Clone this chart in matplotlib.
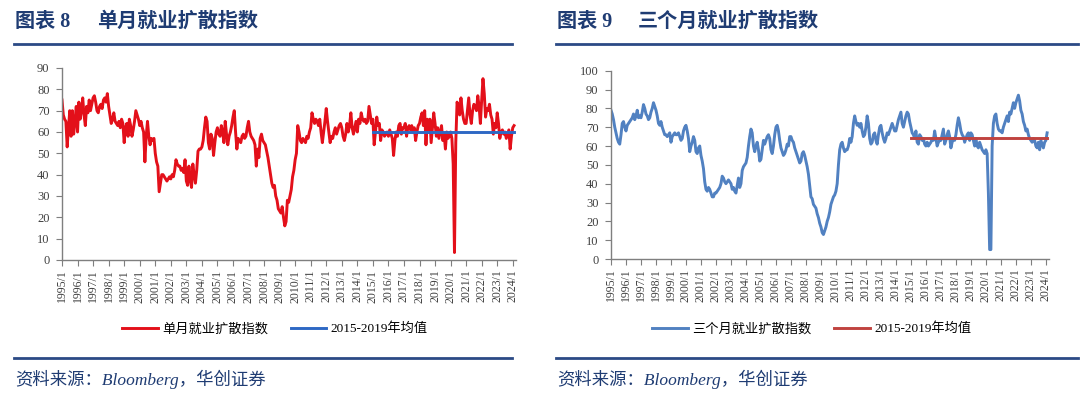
import matplotlib.pyplot as plt
import numpy as np
import pandas as pd
from matplotlib.lines import Line2D

# monthly values, 1995/1 .. 2024/2
single_month = [
    75, 68, 66, 65, 53, 62, 70, 58, 70, 59, 65, 72,   # 1995
    60, 74, 66, 70, 76, 68, 63, 72, 69, 75, 70, 73,   # 1996
    76, 77, 74, 70, 69, 72, 73, 71, 75, 76, 74, 78,   # 1997
    72, 68, 64, 66, 69, 65, 64, 63, 65, 62, 66, 64,   # 1998
    55, 62, 64, 58, 66, 63, 58, 61, 65, 70, 68, 66,   # 1999
    63, 65, 62, 60, 46, 58, 65, 58, 54, 57, 56, 57,   # 2000
    50, 46, 44, 32, 36, 40, 40, 39, 38, 37, 38, 39,   # 2001
    38, 40, 39, 42, 47, 45, 44, 44, 42, 43, 41, 47,   # 2002
    37, 35, 44, 38, 34, 45, 40, 36, 42, 51, 52, 52,   # 2003
    53, 56, 62, 67, 65, 55, 52, 59, 57, 49, 55, 60,   # 2004
    62, 59, 58, 63, 60, 55, 65, 59, 54, 58, 60, 63,   # 2005
    67, 70, 60, 52, 57, 56, 55, 58, 59, 57, 58, 62,   # 2006
    65, 60, 58, 57, 56, 54, 44, 52, 48, 57, 59, 56,   # 2007
    55, 54, 51, 48, 44, 40, 36, 34, 35, 30, 28, 24,   # 2008
    23, 22, 25, 20, 16, 18, 28, 27, 30, 33, 39, 42,   # 2009
    47, 50, 63, 60, 56, 55, 57, 56, 55, 58, 57, 60,   # 2010
    62, 69, 66, 64, 66, 65, 63, 66, 60, 55, 60, 65,   # 2011
    71, 65, 60, 55, 58, 57, 60, 62, 59, 61, 63, 64,   # 2012
    62, 58, 56, 59, 64, 60, 63, 69, 62, 59, 62, 65,   # 2013
    60, 66, 64, 69, 66, 65, 66, 64, 65, 72, 68, 64,   # 2014
    66, 54, 60, 67, 63, 64, 56, 61, 60, 58, 59, 60,   # 2015
    58, 61, 59, 57, 49, 56, 60, 58, 63, 64, 59, 62,   # 2016
    62, 64, 58, 62, 63, 61, 63, 60, 62, 56, 60, 63,   # 2017
    64, 67, 69, 63, 70, 54, 66, 60, 66, 55, 62, 69,   # 2018
    64, 58, 62, 57, 60, 63, 56, 59, 52, 60, 57, 58,   # 2019
    60, 57, 45, 3.5, 55, 74, 72, 68, 76, 70, 66, 64,  # 2020
    64, 70, 76, 68, 64, 70, 73, 72, 70, 77, 72, 64,   # 2021
    75, 85, 78, 67, 71, 70, 73, 68, 66, 59, 64, 62,   # 2022
    69, 64, 57, 60, 61, 59, 60, 57, 59, 61, 52, 58,   # 2023
    62, 63,                                           # 2024
]

three_month = [
    79, 77, 74, 70, 67, 64, 62, 61, 66, 72, 73, 70,   # 1995
    68, 71, 72, 73, 74, 75, 77, 74, 76, 79, 75, 76,   # 1996
    75, 78, 82, 80, 77, 76, 74, 75, 78, 80, 83, 81,   # 1997
    79, 76, 72, 71, 73, 70, 68, 66, 66, 65, 66, 67,   # 1998
    62, 65, 66, 67, 66, 66, 67, 65, 63, 64, 68, 70,   # 1999
    71, 68, 64, 57, 60, 62, 65, 63, 57, 56, 59, 60,   # 2000
    55, 52, 48, 41, 37, 36, 38, 37, 35, 33, 33, 35,   # 2001
    35, 36, 37, 38, 40, 44, 43, 41, 40, 41, 42, 41,   # 2002
    40, 37, 38, 36, 35, 39, 43, 38, 40, 47, 49, 50,   # 2003
    51, 54, 60, 65, 69, 67, 60, 57, 60, 62, 58, 52,   # 2004
    53, 58, 63, 61, 63, 65, 66, 64, 58, 56, 60, 66,   # 2005
    70, 71, 68, 63, 59, 57, 55, 56, 58, 61, 60, 65,   # 2006
    65, 63, 62, 59, 57, 55, 53, 51, 52, 56, 57, 55,   # 2007
    52, 49, 45, 39, 33, 32, 29, 28, 27, 24, 22, 19,   # 2008
    17, 14, 13, 15, 17, 20, 22, 25, 29, 31, 33, 34,   # 2009
    36, 40, 50, 58, 61, 62, 59, 57, 58, 58, 60, 64,   # 2010
    62, 65, 72, 76, 73, 71, 72, 70, 72, 68, 65, 66,   # 2011
    70, 76, 72, 64, 61, 62, 66, 67, 63, 61, 66, 70,   # 2012
    71, 67, 64, 62, 64, 67, 66, 68, 70, 72, 70, 68,   # 2013
    68, 71, 74, 76, 78, 72, 70, 73, 76, 78, 77, 73,   # 2014
    70, 67, 66, 64, 68, 62, 61, 66, 65, 63, 64, 61,   # 2015
    60, 62, 60, 61, 62, 64, 63, 68, 64, 60, 62, 63,   # 2016
    63, 66, 69, 61, 63, 66, 68, 65, 59, 62, 64, 63,   # 2017
    66, 71, 75, 72, 68, 66, 65, 62, 64, 66, 67, 63,   # 2018
    67, 66, 63, 60, 64, 60, 59, 62, 60, 58, 57, 56,   # 2019
    58, 56, 35, 5, 5, 60, 72, 76, 77, 72, 69, 68,     # 2020
    68, 67, 70, 72, 74, 76, 73, 78, 77, 80, 83, 80,   # 2021
    83, 85, 87, 84, 79, 77, 73, 71, 68, 69, 66, 64,   # 2022
    63, 62, 64, 63, 60, 59, 62, 58, 63, 61, 59, 62,   # 2023
    63, 67,                                           # 2024
]

avg_single = 60.0   # 2015-2019 average
avg_three = 64.0
avg_start = '2015-01'

months = pd.date_range('1995-01-01', periods=len(single_month), freq='MS')
tick_labels = [f"{y}/1" for y in range(1995, 2025)]

TITLE_BLUE = '#1F3C73'
CJK = 'Noto Sans CJK SC'
SERIF = ['Liberation Serif', CJK]

fig = plt.figure(figsize=(10.8, 3.97), dpi=100)
W, H = 1080, 397


def fx(px):
    return px / W


def fy(py):
    return 1 - py / H


def hline(x0, x1, y):
    fig.add_artist(Line2D([fx(x0), fx(x1)], [fy(y), fy(y)], transform=fig.transFigure,
                          color='#2B4A85', lw=2.0))


def panel(rect, values, avg, ymax, names, colors, leg_x):
    ax = fig.add_axes(rect)
    x = np.arange(len(values))
    ax.plot(x, values, color=colors[0], lw=2.1, solid_joinstyle='round')
    i0 = list(months.strftime('%Y-%m')).index(avg_start)
    ax.plot(x[i0:], [avg] * (len(values) - i0), color=colors[1], lw=2.1)
    ax.set_xlim(0, len(values) + 0.5)
    ax.set_ylim(0, ymax)
    ax.set_yticks(np.arange(0, ymax + 1, 10))
    ax.set_xticks(np.arange(0, len(values), 12))
    ax.set_xticklabels(tick_labels, rotation=90, fontsize=8.5, family=SERIF, color='#404040')
    for lab in ax.get_yticklabels():
        lab.set_family(SERIF)
        lab.set_fontsize(9)
        lab.set_color('#404040')
    for s in ['top', 'right']:
        ax.spines[s].set_visible(False)
    for s in ['left', 'bottom']:
        ax.spines[s].set_color('#7F7F7F')
        ax.spines[s].set_linewidth(1.0)
    ax.tick_params(axis='both', length=4, width=0.8, color='#7F7F7F')
    ax.tick_params(axis='y', pad=5)
    ax.tick_params(axis='x', pad=3)
    ax.legend(names, loc='center', ncol=2, frameon=False, handlelength=2.7,
              columnspacing=1.7, handletextpad=0.35,
              prop={'family': SERIF, 'size': 9.5},
              bbox_to_anchor=(fx(leg_x), fy(329)), bbox_transform=fig.transFigure)
    return ax


# left: single month
panel([fx(62), fy(260), fx(516) - fx(62), fy(68) - fy(260)], single_month, avg_single, 90,
      ['单月就业扩散指数', '2015-2019年均值'], ['#E3101A', '#2E68C4'], 275)
# right: three month
panel([fx(611), fy(259), fx(1049) - fx(611), fy(70.7) - fy(259)], three_month, avg_three, 100,
      ['三个月就业扩散指数', '2015-2019年均值'], ['#5181C1', '#C0433F'], 812)

title_kw = dict(family=SERIF, fontsize=14.5, fontweight='bold', color=TITLE_BLUE, va='center')
fig.text(fx(15), fy(22), '图表 8', **title_kw)
fig.text(fx(97), fy(22), '单月就业扩散指数', **title_kw)
fig.text(fx(557), fy(22), '图表 9', **title_kw)
fig.text(fx(638), fy(22), '三个月就业扩散指数', **title_kw)

hline(14, 512, 44)
hline(556, 1078, 44)
hline(14, 512, 358)
hline(556, 1078, 358)

src_kw = dict(family=SERIF, fontsize=12.5, style='italic', color=TITLE_BLUE, va='center')
fig.text(fx(15), fy(379), '资料来源：Bloomberg，华创证券', **src_kw)
fig.text(fx(557), fy(379), '资料来源：Bloomberg，华创证券', **src_kw)

fig.savefig('out.png', dpi=100)
